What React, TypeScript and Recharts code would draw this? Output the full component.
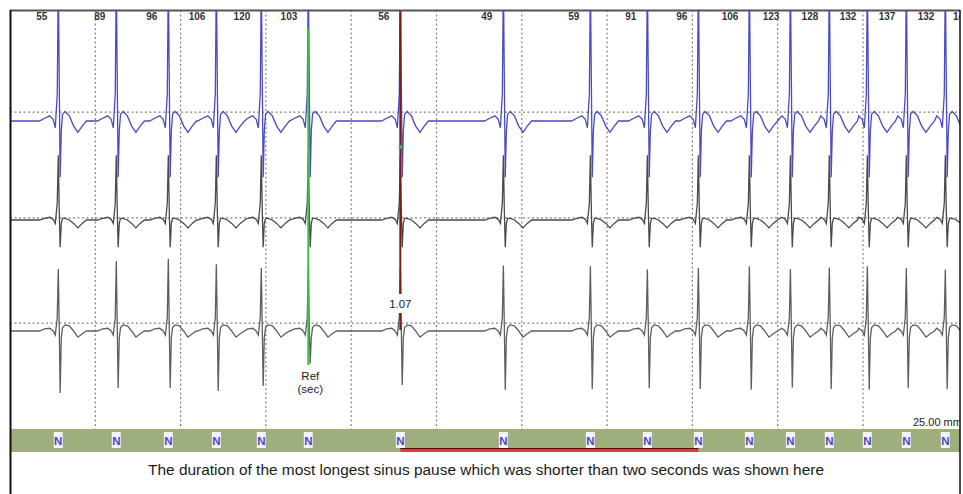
import React from "react";
import {
  ComposedChart,
  Line,
  Scatter,
  XAxis,
  YAxis,
  ReferenceLine,
  ReferenceArea,
} from "recharts";

// R-peak times in seconds from the left edge of the strip (last one lies just past the right edge)
const beatTimes = [
  0.566, 1.246, 1.856, 2.419, 2.946, 3.497, 4.576, 5.784, 6.804, 7.472, 8.07, 8.668, 9.149,
  9.605, 10.051, 10.508, 10.965, 11.38,
];
// instantaneous heart rate written above each beat (bpm)
const heartRates = [
  "55", "89", "96", "106", "120", "103", "56", "49", "59", "91", "96", "106", "123", "128",
  "132", "137", "132", "146",
];
const beatClasses = [
  "N", "N", "N", "N", "N", "N", "N", "N", "N", "N", "N", "N", "N", "N", "N", "N", "N", "N",
];

// one beat, sampled around the R peak (s) with the amplitude of each lead (mV)
const beatOffsets = [
  -0.22, -0.16, -0.1, -0.06, -0.035, -0.012, 0, 0.012, 0.022, 0.035, 0.05, 0.08, 0.13, 0.18,
  0.23, 0.28, 0.33,
];
const lead1Wave = [
  0, 0.08, 0.15, 0.05, -0.2, 0.8, 4.2, 1.0, -1.65, -0.3, 0.2, 0.28, 0.15, -0.15, -0.33, -0.15, 0,
];
const lead2Wave = [
  0, 0.05, 0.08, 0.02, -0.1, 0.5, 1.9, 0.2, -0.8, -0.1, 0.05, 0.05, 0, -0.1, -0.23, -0.1, 0,
];
const lead3Wave = [
  0, 0.06, 0.08, 0, -0.12, 0.4, 1.9, 0, -1.75, -0.2, 0.1, 0.18, 0.15, 0, -0.18, -0.08, 0,
];
// lead 3 R and S amplitude of each beat (mV)
const lead3R = [
  1.82, 2.05, 2.11, 1.96, 1.85, 1.9, 1.85, 1.92, 1.9, 1.8, 1.85, 1.9, 1.82, 1.86, 1.9, 1.85,
  1.8, 1.85,
];
const lead3S = [
  -1.82, -1.67, -1.67, -1.76, -1.61, -0.95, -1.58, -1.72, -1.7, -1.68, -1.7, -1.72, -1.66, -1.7,
  -1.72, -1.68, -1.7, -1.7,
];
// dotted isoelectric guides (mV) for each lead
const guideLevels = [0.26, 0.06, 0.23];

const secondMarks = [1, 2, 3, 4, 5, 6, 7, 8, 9, 10];
const refBeat = 5;
const pauseBeat = 6;
const selectionEnd = 10;
const pauseText = "1.07";
const speedText = "25.00 mm/s";
const caption =
  "The duration of the most longest sinus pause which was shorter than two seconds was shown here";

const W = 963;
const H = 494;
const PLOT_TOP = 10;
const PLOT_BOTTOM = 452;
const PLOT_LEFT = 10;
const PLOT_RIGHT = 960;
const SEC_PX = 85.3;
const MV_PX = 34.1;
const X_MAX = (PLOT_RIGHT - PLOT_LEFT) / SEC_PX;

const leadDomain = (basePx: number) => [
  -(PLOT_BOTTOM - basePx) / MV_PX,
  (basePx - PLOT_TOP) / MV_PX,
];
const fy = (px: number) => px - PLOT_TOP;

const rows: { t: number; l1: number; l2: number; l3: number }[] = [{ t: 0, l1: 0, l2: 0, l3: 0 }];
let lastT = 0;
beatTimes.forEach((bt, i) => {
  beatOffsets.forEach((dt, k) => {
    const t = bt + dt;
    if (t <= lastT) return;
    const l3 = k === 6 ? lead3R[i] : k === 8 ? lead3S[i] : lead3Wave[k];
    rows.push({ t, l1: lead1Wave[k], l2: lead2Wave[k], l3 });
    lastT = t;
  });
});

const font = "'Liberation Sans', Arial, sans-serif";

// only beats inside the strip get a class box
const nMarks = beatTimes
  .map((t, i) => ({ t, y: fy(440), label: beatClasses[i] }))
  .filter((m) => m.t < X_MAX);
const hrMarks = beatTimes.map((t, i) => ({ t, y: fy(20), label: heartRates[i] }));
const notes = [
  { t: beatTimes[refBeat], y: fy(380), label: "Ref", box: false },
  { t: beatTimes[refBeat], y: fy(393), label: "(sec)", box: false },
  { t: beatTimes[pauseBeat], y: fy(308), label: pauseText, box: true },
];
const dotMarks = [{ t: beatTimes[pauseBeat], y: fy(147) }];

const NShape = (p: any) => (
  <g>
    <rect x={p.cx - 4.5} y={p.cy - 8} width={9} height={16} fill="#f3f3ff" />
    <text
      x={p.cx}
      y={p.cy + 4.5}
      textAnchor="middle"
      fontSize={11.5}
      fontWeight="bold"
      fill="#4848c8"
      fontFamily={font}
    >
      {p.payload.label}
    </text>
  </g>
);

const HrShape = (p: any) => (
  <text
    x={p.cx - 11}
    y={p.cy}
    textAnchor="end"
    fontSize={10}
    fontWeight="bold"
    fill="#333"
    fontFamily={font}
  >
    {p.payload.label}
  </text>
);

const NoteShape = (p: any) => (
  <g>
    {p.payload.box && <rect x={p.cx - 11} y={p.cy - 14} width={22} height={19} fill="#fff" />}
    <text
      x={p.cx + (p.payload.box ? 0 : 2)}
      y={p.cy}
      textAnchor="middle"
      fontSize={11.5}
      fill="#222"
      fontFamily={font}
    >
      {p.payload.label}
    </text>
  </g>
);

const DotShape = (p: any) => <circle cx={p.cx} cy={p.cy} r={2} fill="#3cbf4a" />;

export default function App() {
  return (
    <div style={{ position: "absolute", left: 0, top: 0, width: W, height: H, background: "#fff" }}>
      <ComposedChart
        width={W}
        height={H}
        data={rows}
        margin={{ top: PLOT_TOP, right: W - PLOT_RIGHT, bottom: H - PLOT_BOTTOM, left: PLOT_LEFT }}
      >
        <XAxis dataKey="t" type="number" domain={[0, X_MAX]} hide allowDataOverflow />
        <YAxis yAxisId="l1" domain={leadDomain(121)} hide allowDataOverflow />
        <YAxis yAxisId="l2" domain={leadDomain(220)} hide allowDataOverflow />
        <YAxis yAxisId="l3" domain={leadDomain(331)} hide allowDataOverflow />
        <YAxis yAxisId="frame" domain={[0, PLOT_BOTTOM - PLOT_TOP]} reversed hide allowDataOverflow />

        {secondMarks.map((s) => (
          <ReferenceLine
            key={s}
            yAxisId="frame"
            segment={[
              { x: s, y: fy(10) },
              { x: s, y: fy(429) },
            ]}
            stroke="#8d8079"
            strokeDasharray="2 2.5"
            strokeWidth={1.2}
          />
        ))}
        {["l1", "l2", "l3"].map((id, i) => (
          <ReferenceLine
            key={id}
            yAxisId={id}
            y={guideLevels[i]}
            stroke="#8d8079"
            strokeDasharray="2 2.5"
            strokeWidth={1.2}
          />
        ))}

        <Line yAxisId="l3" dataKey="l3" stroke="#5e5e5e" strokeWidth={1.3} dot={false} isAnimationActive={false} />
        <Line yAxisId="l2" dataKey="l2" stroke="#4a4a4a" strokeWidth={1.3} dot={false} isAnimationActive={false} />
        <Line yAxisId="l1" dataKey="l1" stroke="#4a4ac4" strokeWidth={1.3} dot={false} isAnimationActive={false} />

        <ReferenceLine
          yAxisId="frame"
          segment={[
            { x: beatTimes[refBeat], y: fy(28) },
            { x: beatTimes[refBeat], y: fy(365) },
          ]}
          stroke="#3cbf4a"
          strokeWidth={2}
        />
        <ReferenceLine
          yAxisId="frame"
          segment={[
            { x: beatTimes[pauseBeat], y: fy(11) },
            { x: beatTimes[pauseBeat], y: fy(330) },
          ]}
          stroke="#7a1c1c"
          strokeWidth={2}
        />

        <ReferenceArea
          yAxisId="frame"
          x1={0}
          x2={X_MAX}
          y1={fy(429)}
          y2={fy(452)}
          fill="#9eaf7c"
          fillOpacity={1}
          stroke="none"
        />
        <ReferenceArea
          yAxisId="frame"
          x1={beatTimes[pauseBeat]}
          x2={beatTimes[selectionEnd]}
          y1={fy(449)}
          y2={fy(452)}
          fill="#de3d3d"
          fillOpacity={1}
          stroke="none"
        />
        <ReferenceLine
          yAxisId="frame"
          segment={[
            { x: beatTimes[pauseBeat], y: fy(448.5) },
            { x: beatTimes[selectionEnd], y: fy(448.5) },
          ]}
          stroke="#222"
          strokeWidth={1}
        />

        <Scatter yAxisId="frame" data={nMarks} dataKey="y" shape={NShape} isAnimationActive={false} />
        <Scatter yAxisId="frame" data={hrMarks} dataKey="y" shape={HrShape} isAnimationActive={false} />
        <Scatter yAxisId="frame" data={notes} dataKey="y" shape={NoteShape} isAnimationActive={false} />
        <Scatter yAxisId="frame" data={dotMarks} dataKey="y" shape={DotShape} isAnimationActive={false} />
      </ComposedChart>

      <svg
        width={W}
        height={H}
        style={{ position: "absolute", left: 0, top: 0, pointerEvents: "none" }}
      >
        <defs>
          <clipPath id="frameClip">
            <rect x={PLOT_LEFT} y={0} width={PLOT_RIGHT - PLOT_LEFT} height={H} />
          </clipPath>
        </defs>
        <rect x={PLOT_RIGHT + 1} y={0} width={W - PLOT_RIGHT} height={H} fill="#fff" />
        <rect x={0} y={0} width={W} height={PLOT_TOP} fill="#fff" />
        <text
          x={913}
          y={426}
          fontSize={11}
          fill="#222"
          fontFamily={font}
          clipPath="url(#frameClip)"
        >
          {speedText}
        </text>
        <line x1={PLOT_LEFT} y1={10.5} x2={PLOT_RIGHT} y2={10.5} stroke="#555" strokeWidth={2} />
        <line x1={10.5} y1={10} x2={10.5} y2={H} stroke="#111" strokeWidth={2} />
        <line x1={PLOT_RIGHT} y1={10} x2={PLOT_RIGHT} y2={H} stroke="#111" strokeWidth={1.5} />
        <text
          x={486}
          y={475}
          textAnchor="middle"
          fontSize={14}
          fill="#1a1a1a"
          fontFamily={font}
          textLength={676}
          lengthAdjust="spacingAndGlyphs"
        >
          {caption}
        </text>
      </svg>
    </div>
  );
}
